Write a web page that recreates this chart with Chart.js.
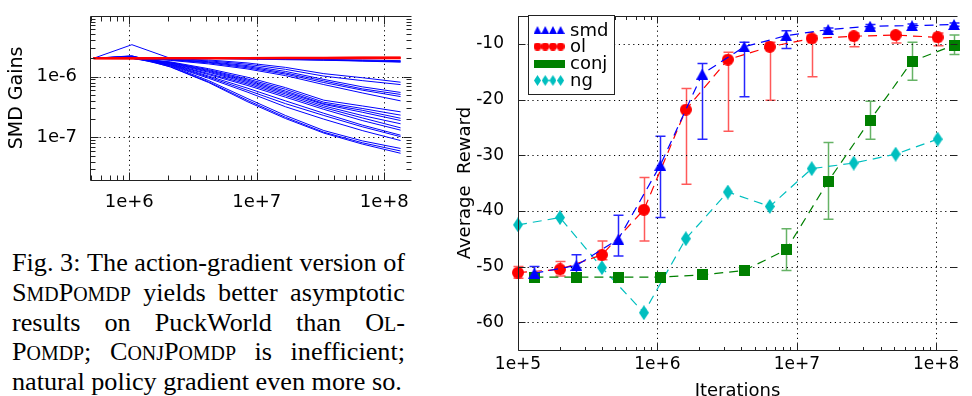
<!DOCTYPE html>
<html>
<head>
<meta charset="utf-8">
<script src="https://cdn.jsdelivr.net/npm/chart.js@4.4.1/dist/chart.umd.min.js"></script>
<style>
    body { margin: 0; background: #fff; width: 972px; height: 396px; position: relative; overflow: hidden; }
    #gainsChart { position: absolute; left: 0; top: 0; }
    #rewardChart { position: absolute; left: 440px; top: 0; }
    .caption { position: absolute; left: 12px; top: 248px; width: 393px; color: #000;
        font-family: 'Liberation Serif', 'Times New Roman', serif; font-size: 26.2px; line-height: 29.75px; }
    .caption .row { display: flex; justify-content: space-between; white-space: nowrap; height: 29.75px; }
    .caption .last { white-space: nowrap; height: 29.75px; }
    .caption small { font-size: 76%; line-height: 1; }
</style>
</head>
<body>
<canvas id="gainsChart" width="440" height="215"></canvas>
<canvas id="rewardChart" width="532" height="396"></canvas>
<div class="caption">
    <div class="row"><span>Fig.</span><span>3:</span><span>The</span><span>action-gradient</span><span>version</span><span>of</span></div>
    <div class="row"><span>S<small>MD</small>P<small>OMDP</small></span><span>yields</span><span>better</span><span>asymptotic</span></div>
    <div class="row"><span>results</span><span>on</span><span>PuckWorld</span><span>than</span><span>O<small>L</small>-</span></div>
    <div class="row"><span>P<small>OMDP</small>;</span><span>C<small>ONJ</small>P<small>OMDP</small></span><span>is</span><span>inefficient;</span></div>
    <div class="last">natural policy gradient even more so.</div>
</div>
<script>
// Дані лівого графіка: ітерації 2^19 ... 2^27
const gainIters = [524288, 1048576, 2097152, 4194304, 8388608, 16777216, 33554432, 67108864, 134217728];
const GAIN_UNIT = 1e-7; // значення нижче в одиницях 1e-7

// Червоні лінії (OL)
const olGainRows = [
    [20, 20.0, 20.0, 20.0, 20.0, 20.0, 20.0, 20.0, 20.0],
    [20, 20.1, 20.2, 20.2, 20.3, 20.4, 20.5, 20.6, 20.7],
    [20, 19.9, 20.0, 20.1, 20.1, 20.2, 20.3, 20.4, 20.4]
];

// Сині лінії (SMD)
const smdGainRows = [
    [20, 20.0, 20.0, 20.0, 19.8, 19.6, 19.2, 18.8, 18.3],
    [20, 20.5, 20.0, 19.9, 19.6, 19.3, 18.8, 18.2, 17.6],
    [20, 20.0, 20.2, 20.0, 19.7, 19.3, 18.9, 18.3, 17.9],
    [20, 33.5, 20.0, 19.8, 19.5, 19.0, 18.6, 18.0, 17.3],
    [20, 20.0, 19.6, 18.8, 16.8, 14.2, 11.2, 9.6, 8.1],
    [20, 20.3, 19.4, 18.2, 16.0, 13.2, 10.2, 8.6, 7.4],
    [20, 20.0, 19.2, 17.6, 15.2, 12.2, 9.0, 6.8, 5.5],
    [20, 20.2, 19.0, 17.2, 14.6, 11.5, 8.5, 6.3, 5.1],
    [20, 20.0, 18.8, 16.8, 14.0, 11.0, 8.0, 6.0, 4.7],
    [20, 21.0, 18.5, 16.2, 13.4, 10.4, 7.4, 5.4, 4.0],
    [20, 20.0, 17.5, 13.5, 9.8, 6.6, 4.1, 3.3, 2.64],
    [20, 20.4, 17.2, 13.0, 9.2, 6.2, 3.8, 3.0, 2.33],
    [20, 20.0, 17.0, 12.6, 8.8, 5.8, 3.6, 2.8, 2.07],
    [20, 21.5, 16.8, 12.2, 8.4, 5.5, 3.5, 2.6, 1.9],
    [20, 20.2, 16.5, 11.8, 8.0, 5.2, 3.3, 2.3, 1.68],
    [20, 20.0, 16.2, 11.2, 7.6, 4.9, 3.1, 2.1, 1.44],
    [20, 21.8, 16.0, 10.8, 7.2, 4.6, 2.9, 1.9, 1.32],
    [20, 20.5, 15.8, 10.2, 6.5, 4.0, 2.5, 1.6, 1.09],
    [20, 20.0, 15.5, 9.8, 6.0, 3.6, 2.3, 1.5, 1.03],
    [20, 21.0, 15.2, 9.4, 5.6, 3.2, 2.0, 1.3, 0.89],
    [20, 21.5, 15.0, 8.6, 4.4, 2.3, 1.3, 0.88, 0.66],
    [20, 20.8, 14.6, 8.2, 4.1, 2.15, 1.22, 0.82, 0.60],
    [20, 22.0, 14.4, 8.0, 3.9, 2.05, 1.18, 0.78, 0.55]
];
const gainXTicks = [1e6, 1e7, 1e8];
const gainYTicks = [1e-7, 1e-6];

// Дані правого графіка
const smdIters = [131072, 262144, 524288, 1048576, 2097152, 4194304, 8388608, 16777216, 33554432, 67108864, 134217728];
const olIters = [100000, 200000, 400000, 800000, 1600000, 3200000, 6400000, 12800000, 25600000, 51200000, 102400000];
const smdReward = [-51.2, -49.8, -45.1, -31.8, -15.4, -10.5, -8.5, -7.4, -6.8, -6.7, -6.5];
const smdHigh = [-50.0, -47.9, -40.8, -26.6, -13.5, -9.7, -7.6, -7.1, -6.5, -6.4, -6.2];
const smdLow = [-52.4, -51.4, -48.1, -41.2, -27.1, -19.5, -10.8, -7.7, -7.1, -7.0, -6.8];
const olReward = [-51.1, -50.5, -47.9, -39.8, -21.8, -12.8, -10.5, -9.0, -8.6, -8.4, -8.8];
const olHigh = [-50.0, -49.1, -45.4, -34.0, -18.0, -11.5, -9.7, -8.5, -8.0, -7.9, -8.0];
const olLow = [-52.1, -51.7, -48.8, -45.4, -35.2, -25.7, -20.1, -15.9, -10.5, -9.8, -10.3];
const conjReward = [-51.9, -51.9, -51.9, -51.9, -51.5, -50.7, -47.0, -34.7, -23.7, -13.1, -10.2];
const conjHigh = [-51.9, -51.9, -51.9, -51.9, -51.5, -50.7, -43.2, -27.7, -20.3, -9.7, -8.4];
const conjLow = [-51.9, -51.9, -51.9, -51.9, -51.5, -50.7, -50.7, -41.5, -27.1, -16.5, -11.9];
const ngReward = [-42.5, -41.2, -50.2, -58.3, -45.0, -36.6, -39.2, -32.4, -31.4, -29.8, -27.1];
const rewardXTicks = [1e5, 1e6, 1e7, 1e8];
const rewardYTicks = [-60, -50, -40, -30, -20, -10];

Chart.defaults.font.family = "'DejaVu Sans', sans-serif";
Chart.defaults.color = '#000';

// Маркер як маленький canvas
function makeMarker(kind, color, w, h) {
    const c = document.createElement('canvas');
    c.width = w;
    c.height = h;
    const g = c.getContext('2d');
    g.fillStyle = color;
    g.beginPath();
    if (kind === 'triangle') {
        g.moveTo(w / 2, 0); g.lineTo(w, h); g.lineTo(0, h);
    } else if (kind === 'circle') {
        g.arc(w / 2, h / 2, w / 2, 0, Math.PI * 2);
    } else if (kind === 'square') {
        g.rect(0, 0, w, h);
    } else {
        g.moveTo(w / 2, 0); g.lineTo(w, h / 2); g.lineTo(w / 2, h); g.lineTo(0, h / 2);
    }
    g.closePath();
    g.fill();
    return c;
}

// Мінорні поділки логарифмічної осі
function logMinors(min, max) {
    const out = [];
    for (let d = Math.floor(Math.log10(min)); d <= Math.ceil(Math.log10(max)); d++) {
        for (let k = 2; k <= 9; k++) {
            const v = k * Math.pow(10, d);
            if (v > min && v < max) out.push(v);
        }
    }
    return out;
}

// Рамка, пунктирна сітка та внутрішні поділки
function makeFrame(opt) {
    return {
        id: 'frame',
        beforeDatasetsDraw(chart) {
            const { ctx, chartArea: a, scales: { x, y } } = chart;
            ctx.save();
            ctx.strokeStyle = '#000';
            ctx.lineWidth = 1;
            ctx.setLineDash([1.2, 3.6]);
            ctx.beginPath();
            opt.xMajor.forEach(v => {
                const px = Math.round(x.getPixelForValue(v)) + 0.5;
                ctx.moveTo(px, a.top); ctx.lineTo(px, a.bottom);
            });
            opt.yMajor.forEach(v => {
                const py = Math.round(y.getPixelForValue(v)) + 0.5;
                ctx.moveTo(a.left, py); ctx.lineTo(a.right, py);
            });
            ctx.stroke();
            ctx.restore();
        },
        afterDatasetsDraw(chart) {
            const { ctx, chartArea: a, scales: { x, y } } = chart;
            const L = Math.round(a.left) + 0.5, T = Math.round(a.top) + 0.5, B = Math.round(a.bottom) + 0.5, R = Math.round(a.right) + 0.5;
            ctx.save();
            ctx.strokeStyle = '#222';
            ctx.lineWidth = 1;
            ctx.beginPath();
            ctx.moveTo(R, T); ctx.lineTo(L, T); ctx.lineTo(L, B); ctx.lineTo(R, B);
            const xt = (v, len) => {
                const px = Math.round(x.getPixelForValue(v)) + 0.5;
                ctx.moveTo(px, B); ctx.lineTo(px, B - len);
                ctx.moveTo(px, T); ctx.lineTo(px, T + len);
            };
            const yt = (v, len) => {
                const py = Math.round(y.getPixelForValue(v)) + 0.5;
                ctx.moveTo(L, py); ctx.lineTo(L + len, py);
                ctx.moveTo(R, py); ctx.lineTo(R - len, py);
            };
            opt.xMajor.forEach(v => xt(v, opt.major));
            opt.xMinor.forEach(v => xt(v, opt.minor));
            opt.yMajor.forEach(v => yt(v, opt.major));
            (opt.yMinor || []).forEach(v => yt(v, opt.minor));
            ctx.stroke();
            ctx.restore();
        }
    };
}

// Лівий графік: SMD Gains
const gainDatasets = [];
olGainRows.forEach(row => {
    gainDatasets.push({
        data: gainIters.map((it, i) => ({ x: it, y: row[i] * GAIN_UNIT })),
        borderColor: '#ff0000', borderWidth: 2, pointRadius: 0, fill: false
    });
});
smdGainRows.forEach(row => {
    gainDatasets.push({
        data: gainIters.map((it, i) => ({ x: it, y: row[i] * GAIN_UNIT })),
        borderColor: '#0000ff', borderWidth: 1, pointRadius: 0, fill: false
    });
});

const GAIN_X_MIN = 4.92e5, GAIN_X_MAX = 1.62e8, GAIN_Y_MIN = 2e-8, GAIN_Y_MAX = 1e-5;

new Chart(document.getElementById('gainsChart'), {
    type: 'line',
    data: { datasets: gainDatasets },
    options: {
        responsive: false,
        animation: false,
        layout: { padding: { top: 8, right: 29, left: 0, bottom: 0 } },
        plugins: { legend: { display: false }, tooltip: { enabled: false } },
        scales: {
            x: {
                type: 'logarithmic', min: GAIN_X_MIN, max: GAIN_X_MAX,
                grid: { display: false }, border: { display: false },
                afterBuildTicks: s => { s.ticks = gainXTicks.map(v => ({ value: v })); },
                afterFit: s => { s.height = 35; },
                ticks: { callback: v => '1e+' + Math.round(Math.log10(v)), font: { size: 18 }, padding: 4, maxRotation: 0, autoSkip: false }
            },
            y: {
                type: 'logarithmic', min: GAIN_Y_MIN, max: GAIN_Y_MAX,
                grid: { display: false }, border: { display: false },
                afterBuildTicks: s => { s.ticks = gainYTicks.map(v => ({ value: v })); },
                afterFit: s => { s.width = 90; },
                ticks: { callback: v => '1e' + Math.round(Math.log10(v)), font: { size: 18 }, padding: 5, autoSkip: false },
                title: { display: true, text: 'SMD Gains', font: { size: 19 }, padding: { top: 6, bottom: 0 } }
            }
        }
    },
    plugins: [makeFrame({
        xMajor: gainXTicks, xMinor: logMinors(GAIN_X_MIN, GAIN_X_MAX),
        yMajor: gainYTicks, yMinor: logMinors(GAIN_Y_MIN, GAIN_Y_MAX),
        major: 8, minor: 5
    })]
});

// Правий графік: Average Reward
const series = [
    { label: 'smd', iters: smdIters, mean: smdReward, hi: smdHigh, lo: smdLow, color: '#0000ff', err: 'rgba(0,0,255,0.85)', marker: makeMarker('triangle', '#0000ff', 12, 11), small: makeMarker('triangle', '#0000ff', 8, 8) },
    { label: 'ol', iters: olIters, mean: olReward, hi: olHigh, lo: olLow, color: '#ff0000', err: 'rgba(255,0,0,0.65)', marker: makeMarker('circle', '#ff0000', 12, 12), small: makeMarker('circle', '#ff0000', 8, 8) },
    { label: 'conj', iters: smdIters, mean: conjReward, hi: conjHigh, lo: conjLow, color: '#008000', err: 'rgba(0,128,0,0.6)', marker: makeMarker('square', '#008000', 11, 11), small: makeMarker('square', '#008000', 8, 8) },
    { label: 'ng', iters: olIters, mean: ngReward, hi: null, lo: null, color: '#00bfbf', err: null, marker: makeMarker('diamond', '#00bfbf', 10, 15), small: makeMarker('diamond', '#00bfbf', 7, 11) }
];

// Планки похибок
const errorBars = {
    id: 'errorBars',
    beforeDatasetsDraw(chart) {
        const { ctx, scales: { x, y } } = chart;
        series.forEach(s => {
            if (!s.hi) return;
            ctx.save();
            ctx.strokeStyle = s.err;
            ctx.lineWidth = 1.5;
            ctx.beginPath();
            s.iters.forEach((it, i) => {
                if (s.hi[i] === s.lo[i]) return;
                const px = Math.round(x.getPixelForValue(it)) + 0.5;
                const y1 = y.getPixelForValue(s.hi[i]);
                const y2 = y.getPixelForValue(s.lo[i]);
                ctx.moveTo(px, y1); ctx.lineTo(px, y2);
                ctx.moveTo(px - 5, y1); ctx.lineTo(px + 5, y1);
                ctx.moveTo(px - 5, y2); ctx.lineTo(px + 5, y2);
            });
            ctx.stroke();
            ctx.restore();
        });
    }
};

// Легенда в рамці
const rewardLegend = {
    id: 'rewardLegend',
    afterDraw(chart) {
        const ctx = chart.ctx;
        ctx.save();
        ctx.fillStyle = '#fff';
        ctx.fillRect(88.5, 15.5, 86, 79);
        ctx.strokeStyle = '#222';
        ctx.lineWidth = 1;
        ctx.strokeRect(88.5, 15.5, 86, 79);
        const rows = [30, 46.5, 63.5, 80.5];
        series.forEach((s, k) => {
            const m = s.small;
            [97.5, 105.2, 112.9, 120.6].forEach(cx => {
                ctx.drawImage(m, cx - m.width / 2, rows[k] - m.height / 2);
            });
            ctx.fillStyle = '#000';
            ctx.font = "18px 'DejaVu Sans'";
            ctx.textBaseline = 'middle';
            ctx.fillText(s.label, 130, rows[k] + 1);
        });
        ctx.restore();
    }
};

const REWARD_X_MIN = 1e5, REWARD_X_MAX = 1.41e8;

new Chart(document.getElementById('rewardChart'), {
    type: 'line',
    data: {
        datasets: series.map(s => ({
            label: s.label,
            data: s.iters.map((it, i) => ({ x: it, y: s.mean[i] })),
            borderColor: s.color,
            borderWidth: 1.2,
            borderDash: [9, 6],
            pointStyle: s.marker,
            pointRadius: 6,
            clip: false,
            fill: false
        }))
    },
    options: {
        responsive: false,
        animation: false,
        layout: { padding: { top: 8, right: 15, left: 0, bottom: 0 } },
        plugins: { legend: { display: false }, tooltip: { enabled: false } },
        scales: {
            x: {
                type: 'logarithmic', min: REWARD_X_MIN, max: REWARD_X_MAX,
                grid: { display: false }, border: { display: false },
                afterBuildTicks: s => { s.ticks = rewardXTicks.map(v => ({ value: v })); },
                afterFit: s => { s.height = 46; },
                ticks: { callback: v => '1e+' + Math.round(Math.log10(v)), font: { size: 17 }, padding: -4, maxRotation: 0, autoSkip: false },
                title: { display: true, text: 'Iterations', font: { size: 18 }, padding: { top: 0, bottom: -6 } }
            },
            y: {
                type: 'linear', min: -65, max: -5,
                grid: { display: false }, border: { display: false },
                afterBuildTicks: s => { s.ticks = rewardYTicks.map(v => ({ value: v })); },
                afterFit: s => { s.width = 78; },
                ticks: { font: { size: 17 }, padding: 6, autoSkip: false },
                title: { display: true, text: 'Average  Reward', font: { size: 18 }, padding: { top: 15, bottom: 0 } }
            }
        }
    },
    plugins: [errorBars, makeFrame({
        xMajor: rewardXTicks, xMinor: logMinors(REWARD_X_MIN, REWARD_X_MAX),
        yMajor: rewardYTicks, major: 7, minor: 3.5
    }), rewardLegend]
});
</script>
</body>
</html>
